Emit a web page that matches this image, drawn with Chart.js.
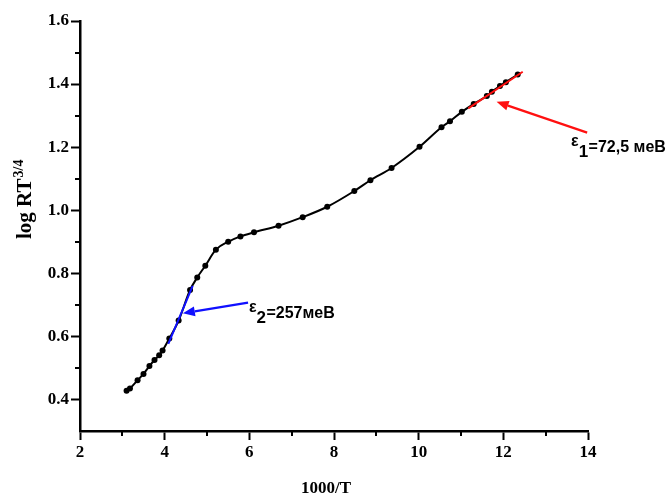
<!DOCTYPE html>
<html>
<head>
<meta charset="utf-8">
<script src="https://cdn.jsdelivr.net/npm/chart.js@4.4.1/dist/chart.umd.min.js"></script>
<style>
  html, body { margin: 0; padding: 0; background: #fff; }
  #wrap { width: 667px; height: 494px; }
</style>
</head>
<body>
<div id="wrap"><canvas id="arrheniusChart" width="667" height="494"></canvas></div>
<script>
// measured points: 1000/T vs log RT^(3/4)
const invT = [3.10, 3.18, 3.36, 3.50, 3.64, 3.76, 3.87, 3.95, 4.11, 4.33, 4.60, 4.77, 4.96,
  5.21, 5.50, 5.79, 6.11, 6.69, 7.26, 7.84, 8.48, 8.86, 9.36, 10.02, 10.54, 10.74, 11.02,
  11.30, 11.61, 11.73, 11.92, 12.06, 12.34];
const logRT = [0.428, 0.435, 0.461, 0.481, 0.506, 0.525, 0.540, 0.555, 0.593, 0.650, 0.747,
  0.787, 0.824, 0.875, 0.900, 0.917, 0.930, 0.951, 0.978, 1.011, 1.061, 1.095, 1.134, 1.201,
  1.263, 1.282, 1.312, 1.337, 1.362, 1.376, 1.394, 1.406, 1.430];

// linear fits for the two activation regions
const fit2X = [4.086, 4.662];
const fit2Y = [0.576, 0.760];
const fit1X = [11.173, 12.458];
const fit1Y = [1.323, 1.439];

// axis ticks
const xTicks = [2, 4, 6, 8, 10, 12, 14];
const xMinor = [3, 5, 7, 9, 11, 13];
const yTicks = [0.4, 0.6, 0.8, 1.0, 1.2, 1.4, 1.6];
const yMinor = [0.5, 0.7, 0.9, 1.1, 1.3, 1.5];

// annotations (arrow tail, arrow tip, text anchor) in data units
const notes = [
  { color: "#1010ff", tail: [5.97, 0.707], tip: [4.43, 0.673], at: [5.99, 0.658], sym: "\u03b5", sub: "2", text: "=257\u043c\u0435\u0412" },
  { color: "#ff1010", tail: [13.98, 1.246], tip: [11.84, 1.344], at: [13.60, 1.185], sym: "\u03b5", sub: "1", text: "=72,5 \u043c\u0435\u0412" },
];

const serif = "'Liberation Serif', 'Times New Roman', serif";
const sans = "'Liberation Sans', Arial, sans-serif";

const toPoints = (xs, ys) => xs.map((x, i) => ({ x: x, y: ys[i] }));

// minor ticks, axis titles and arrows drawn on top of the chart
const extrasPlugin = {
  id: "extras",
  afterDraw(chart) {
    const ctx = chart.ctx;
    const xs = chart.scales.x;
    const ys = chart.scales.y;
    const area = chart.chartArea;
    ctx.save();
    ctx.strokeStyle = "#000";
    ctx.lineWidth = 2;
    xMinor.forEach((v) => {
      const px = Math.round(xs.getPixelForValue(v));
      ctx.beginPath();
      ctx.moveTo(px, area.bottom);
      ctx.lineTo(px, area.bottom + 5);
      ctx.stroke();
    });
    yMinor.forEach((v) => {
      const py = Math.round(ys.getPixelForValue(v));
      ctx.beginPath();
      ctx.moveTo(area.left, py);
      ctx.lineTo(area.left - 5, py);
      ctx.stroke();
    });

    // x title
    ctx.fillStyle = "#000";
    ctx.font = "bold 17px " + serif;
    ctx.textAlign = "center";
    ctx.textBaseline = "alphabetic";
    ctx.fillText("1000/T", 326, 493);

    // y title, rotated, with superscript
    ctx.save();
    ctx.translate(31, 239);
    ctx.rotate(-Math.PI / 2);
    ctx.textAlign = "left";
    ctx.font = "bold 21px " + serif;
    const main = "log RT";
    ctx.fillText(main, 0, 0);
    const w = ctx.measureText(main).width;
    ctx.font = "bold 14px " + serif;
    ctx.fillText("3/4", w + 1, -8);
    ctx.restore();

    // arrows and labels
    notes.forEach((n) => {
      const tx = xs.getPixelForValue(n.tail[0]);
      const ty = ys.getPixelForValue(n.tail[1]);
      const hx = xs.getPixelForValue(n.tip[0]);
      const hy = ys.getPixelForValue(n.tip[1]);
      const ang = Math.atan2(hy - ty, hx - tx);
      const headLen = 12;
      const headW = 5;
      const bx = hx - headLen * Math.cos(ang);
      const by = hy - headLen * Math.sin(ang);
      ctx.strokeStyle = n.color;
      ctx.fillStyle = n.color;
      ctx.lineWidth = 2.2;
      ctx.beginPath();
      ctx.moveTo(tx, ty);
      ctx.lineTo(bx, by);
      ctx.stroke();
      ctx.beginPath();
      ctx.moveTo(hx, hy);
      ctx.lineTo(bx + headW * Math.sin(ang), by - headW * Math.cos(ang));
      ctx.lineTo(bx - headW * Math.sin(ang), by + headW * Math.cos(ang));
      ctx.closePath();
      ctx.fill();

      const lx = xs.getPixelForValue(n.at[0]);
      const ly = ys.getPixelForValue(n.at[1]);
      ctx.fillStyle = "#000";
      ctx.textAlign = "left";
      ctx.font = "bold 16px " + sans;
      ctx.fillText(n.sym, lx, ly - 6);
      let cx = lx + ctx.measureText(n.sym).width;
      ctx.font = "bold 17px " + sans;
      ctx.fillText(n.sub, cx, ly + 5);
      cx += ctx.measureText(n.sub).width + 0.5;
      ctx.font = "bold 16px " + sans;
      ctx.fillText(n.text, cx, ly);
    });
    ctx.restore();
  },
};

const ctx = document.getElementById("arrheniusChart").getContext("2d");
new Chart(ctx, {
  type: "scatter",
  data: {
    datasets: [
      {
        label: "fit e2",
        data: toPoints(fit2X, fit2Y),
        showLine: true,
        borderColor: "#1010ff",
        borderWidth: 2,
        pointRadius: 0,
        order: 0,
      },
      {
        label: "fit e1",
        data: toPoints(fit1X, fit1Y),
        showLine: true,
        borderColor: "#ff1010",
        borderWidth: 2,
        pointRadius: 0,
        order: 0,
      },
      {
        label: "log RT",
        data: toPoints(invT, logRT),
        showLine: true,
        cubicInterpolationMode: "monotone",
        borderColor: "#000",
        borderWidth: 2,
        backgroundColor: "#000",
        pointBackgroundColor: "#000",
        pointBorderColor: "#000",
        pointRadius: 3,
        pointBorderWidth: 0,
        order: 1,
      },
    ],
  },
  options: {
    responsive: false,
    animation: false,
    events: [],
    layout: { padding: { top: 21, right: 79, left: 0, bottom: 0 } },
    plugins: { legend: { display: false }, tooltip: { enabled: false } },
    scales: {
      x: {
        type: "linear",
        min: 2,
        max: 14,
        afterBuildTicks: (scale) => { scale.ticks = xTicks.map((v) => ({ value: v })); },
        afterFit: (scale) => { scale.height = 63; },
        grid: { drawOnChartArea: false, drawTicks: true, tickLength: 9, tickWidth: 2, tickColor: "#000" },
        border: { display: true, color: "#000", width: 2.5 },
        ticks: {
          color: "#000",
          padding: 2,
          maxRotation: 0,
          font: { family: serif, size: 17, weight: "bold" },
          callback: (v) => String(v),
        },
      },
      y: {
        type: "linear",
        min: 0.3,
        max: 1.6,
        afterBuildTicks: (scale) => { scale.ticks = yTicks.map((v) => ({ value: v })); },
        afterFit: (scale) => { scale.width = 80; },
        grid: { drawOnChartArea: false, drawTicks: true, tickLength: 9, tickWidth: 2, tickColor: "#000" },
        border: { display: true, color: "#000", width: 2.5 },
        ticks: {
          color: "#000",
          padding: 2,
          font: { family: serif, size: 17, weight: "bold" },
          callback: (v) => Number(v).toFixed(1),
        },
      },
    },
  },
  plugins: [extrasPlugin],
});
</script>
</body>
</html>
